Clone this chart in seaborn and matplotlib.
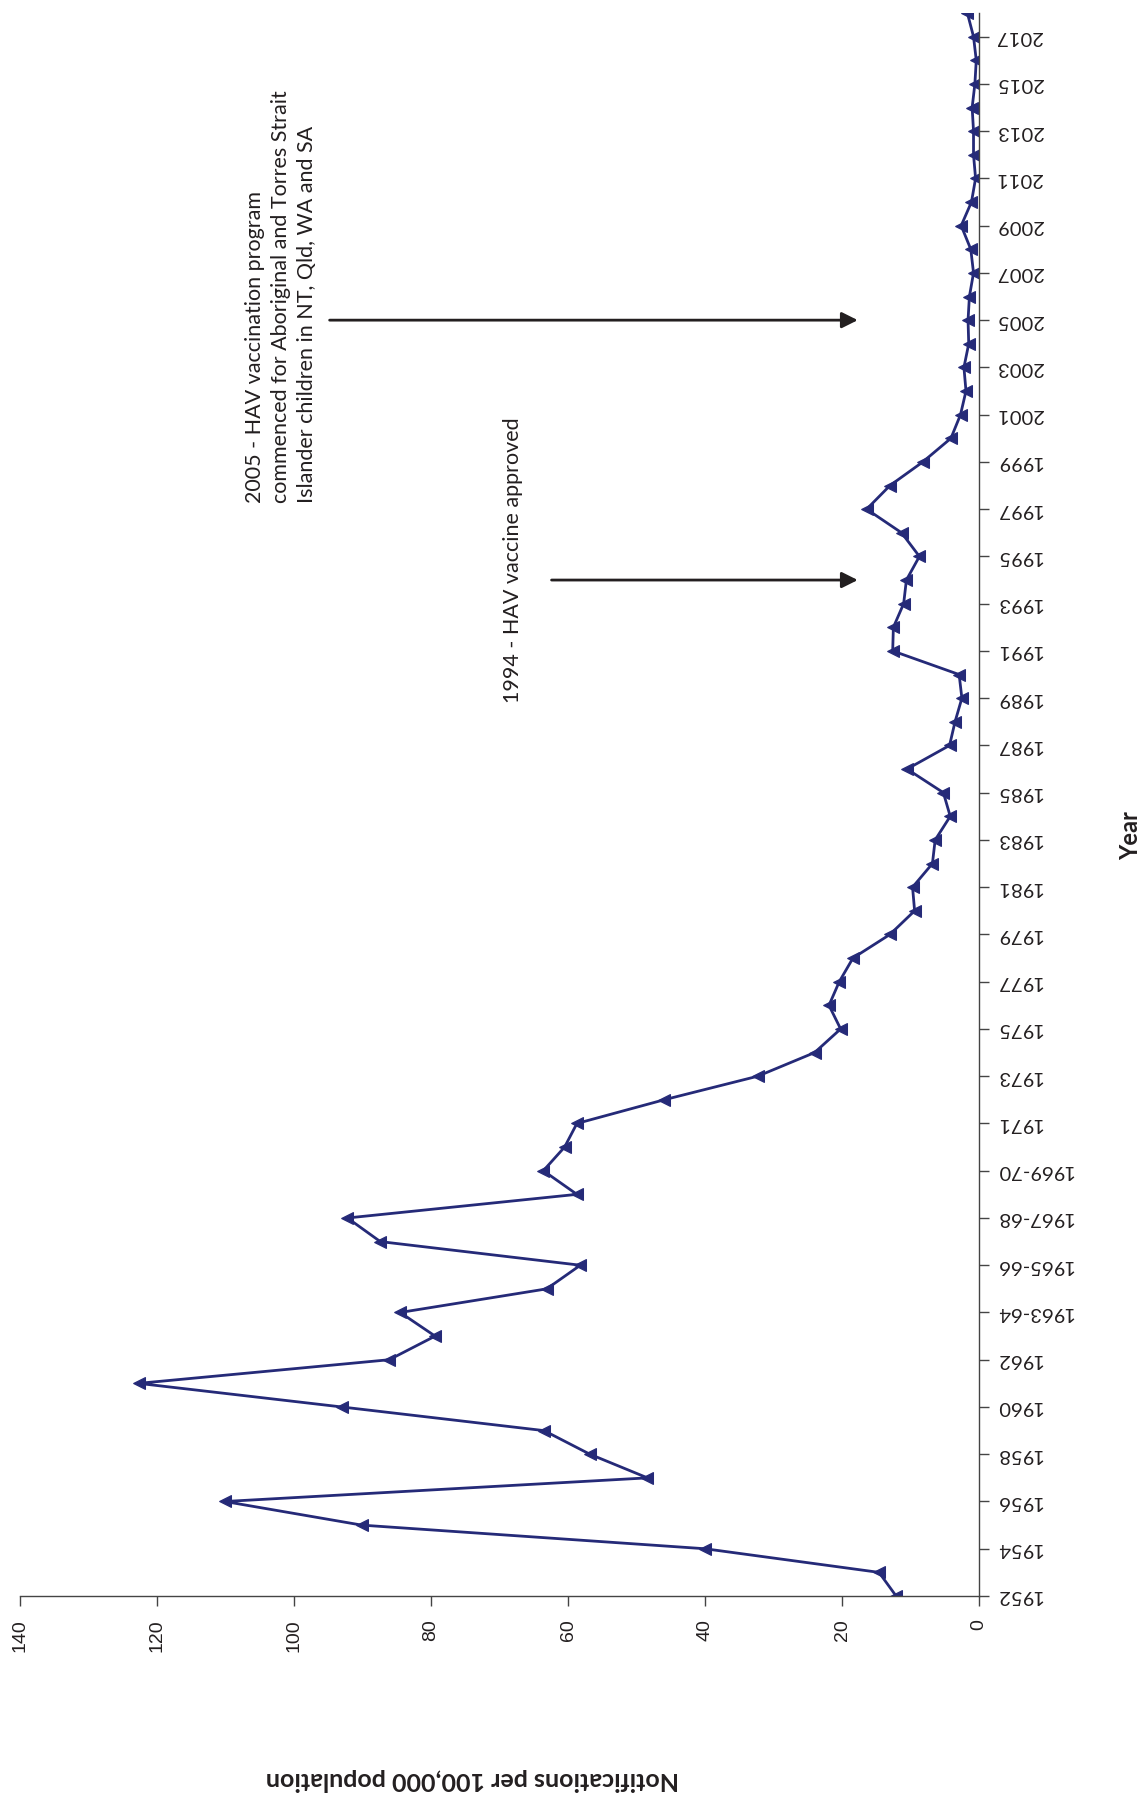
import numpy as np
import pandas as pd
import matplotlib
matplotlib.use('Agg')
import matplotlib.pyplot as plt
import seaborn as sns

# categories (calendar years, financial years 1962-63 to 1969-70)
years = (['1952', '1953', '1954', '1955', '1956', '1957', '1958', '1959', '1960', '1961', '1962',
          '1962-63', '1963-64', '1964-65', '1965-66', '1966-67', '1967-68', '1968-69', '1969-70']
         + [str(y) for y in range(1970, 2019)])

# notifications per 100,000 population
rates = [12.1, 14.6, 40.0, 90.1, 110.1, 48.4, 56.8, 63.5, 93.0, 122.7, 86.1,
         79.4, 84.5, 63.1, 58.2, 87.4, 92.2, 58.7, 63.6,
         60.5, 58.7, 46.0, 32.3, 24.0, 20.2, 21.9, 20.4, 18.4, 13.0, 9.4,
         9.7, 6.8, 6.4, 4.2, 5.2, 10.5, 4.3, 3.5, 2.5, 2.9,
         12.6, 12.5, 11.0, 10.6, 8.7, 11.3, 16.4, 13.0, 8.2, 4.1,
         2.7, 1.9, 2.2, 1.5, 1.6, 1.4, 0.8, 1.2, 2.6, 1.1,
         0.5, 0.8, 0.8, 1.0, 0.6, 0.4, 0.8, 1.7]

value_ticks = [0, 20, 40, 60, 80, 100, 120, 140]

note_2005 = ('2005 - HAV vaccination program\n'
             'commenced for Aboriginal and Torres Strait\n'
             'Islander children in NT, Qld, WA and SA')
note_1994 = '1994 - HAV vaccine approved'

navy = '#252a78'
ink = '#231f20'

sns.set_style('white')
plt.rcParams['font.family'] = ['Lato', 'DejaVu Sans']

W, H = 1143, 1800
fig = plt.figure(figsize=(W / 100, H / 100), dpi=100)
# whole chart is turned on its side: values run right-to-left, years bottom-to-top
ax = fig.add_axes([20 / W, 1 - 1596 / H, (979 - 20) / W, (1596 - 13) / H])

df = pd.DataFrame({'pos': np.arange(len(years)), 'rate': rates})
sns.lineplot(data=df, x='rate', y='pos', sort=False, estimator=None, color=navy,
             linewidth=2, marker='<', markersize=9, markeredgecolor=navy, ax=ax)

ax.set_xlim(140, 0)
ax.set_ylim(0, len(years) - 1)
ax.set_xlabel('')
ax.set_ylabel('')

for side in ['top', 'left']:
    ax.spines[side].set_visible(False)
for side in ['bottom', 'right']:
    ax.spines[side].set_color('#444444')
    ax.spines[side].set_linewidth(1)

# year axis on the right, labels upside down
ax.yaxis.tick_right()
ax.set_yticks(df['pos'][::2])
ax.set_yticklabels(years[::2], rotation=180, va='center', fontsize=14.5, color=ink)
ax.tick_params(axis='y', direction='out', length=7, width=1, color='#444444',
               pad=5, right=True, left=False)

ax.set_xticks(value_ticks)
ax.set_xticklabels([str(v) for v in value_ticks], rotation=90, fontsize=14,
                   family=['Liberation Sans', 'DejaVu Sans'], color=ink)
ax.tick_params(axis='x', direction='out', length=7, width=1, color='#444444',
               pad=10, bottom=True)

# annotations
arrow = dict(arrowstyle='-|>', color=ink, lw=2, mutation_scale=24, shrinkA=0, shrinkB=0)
ax.annotate('', xy=(17.7, years.index('2005')), xytext=(94.8, years.index('2005')),
            arrowprops=arrow)
ax.annotate('', xy=(17.7, years.index('1994')), xytext=(62.4, years.index('1994')),
            arrowprops=arrow)
ax.text(101.9, 46.25, note_2005, rotation=90, rotation_mode='anchor', ha='left',
        va='center', multialignment='left', fontsize=15.5, linespacing=1.35, color=ink)
ax.text(68.1, 37.8, note_1994, rotation=90, rotation_mode='anchor', ha='left',
        va='center', fontsize=15.5, color=ink)

fig.text(472 / W, 1 - 1780 / H, 'Notifications per 100,000 population', rotation=180,
         ha='center', va='center', fontweight='bold', fontsize=18, color=ink)
fig.text(1131 / W, 1 - 836 / H, 'Year', rotation=90, ha='center', va='center',
         fontweight='bold', fontsize=17, color=ink)

fig.savefig('out.png', dpi=100)
